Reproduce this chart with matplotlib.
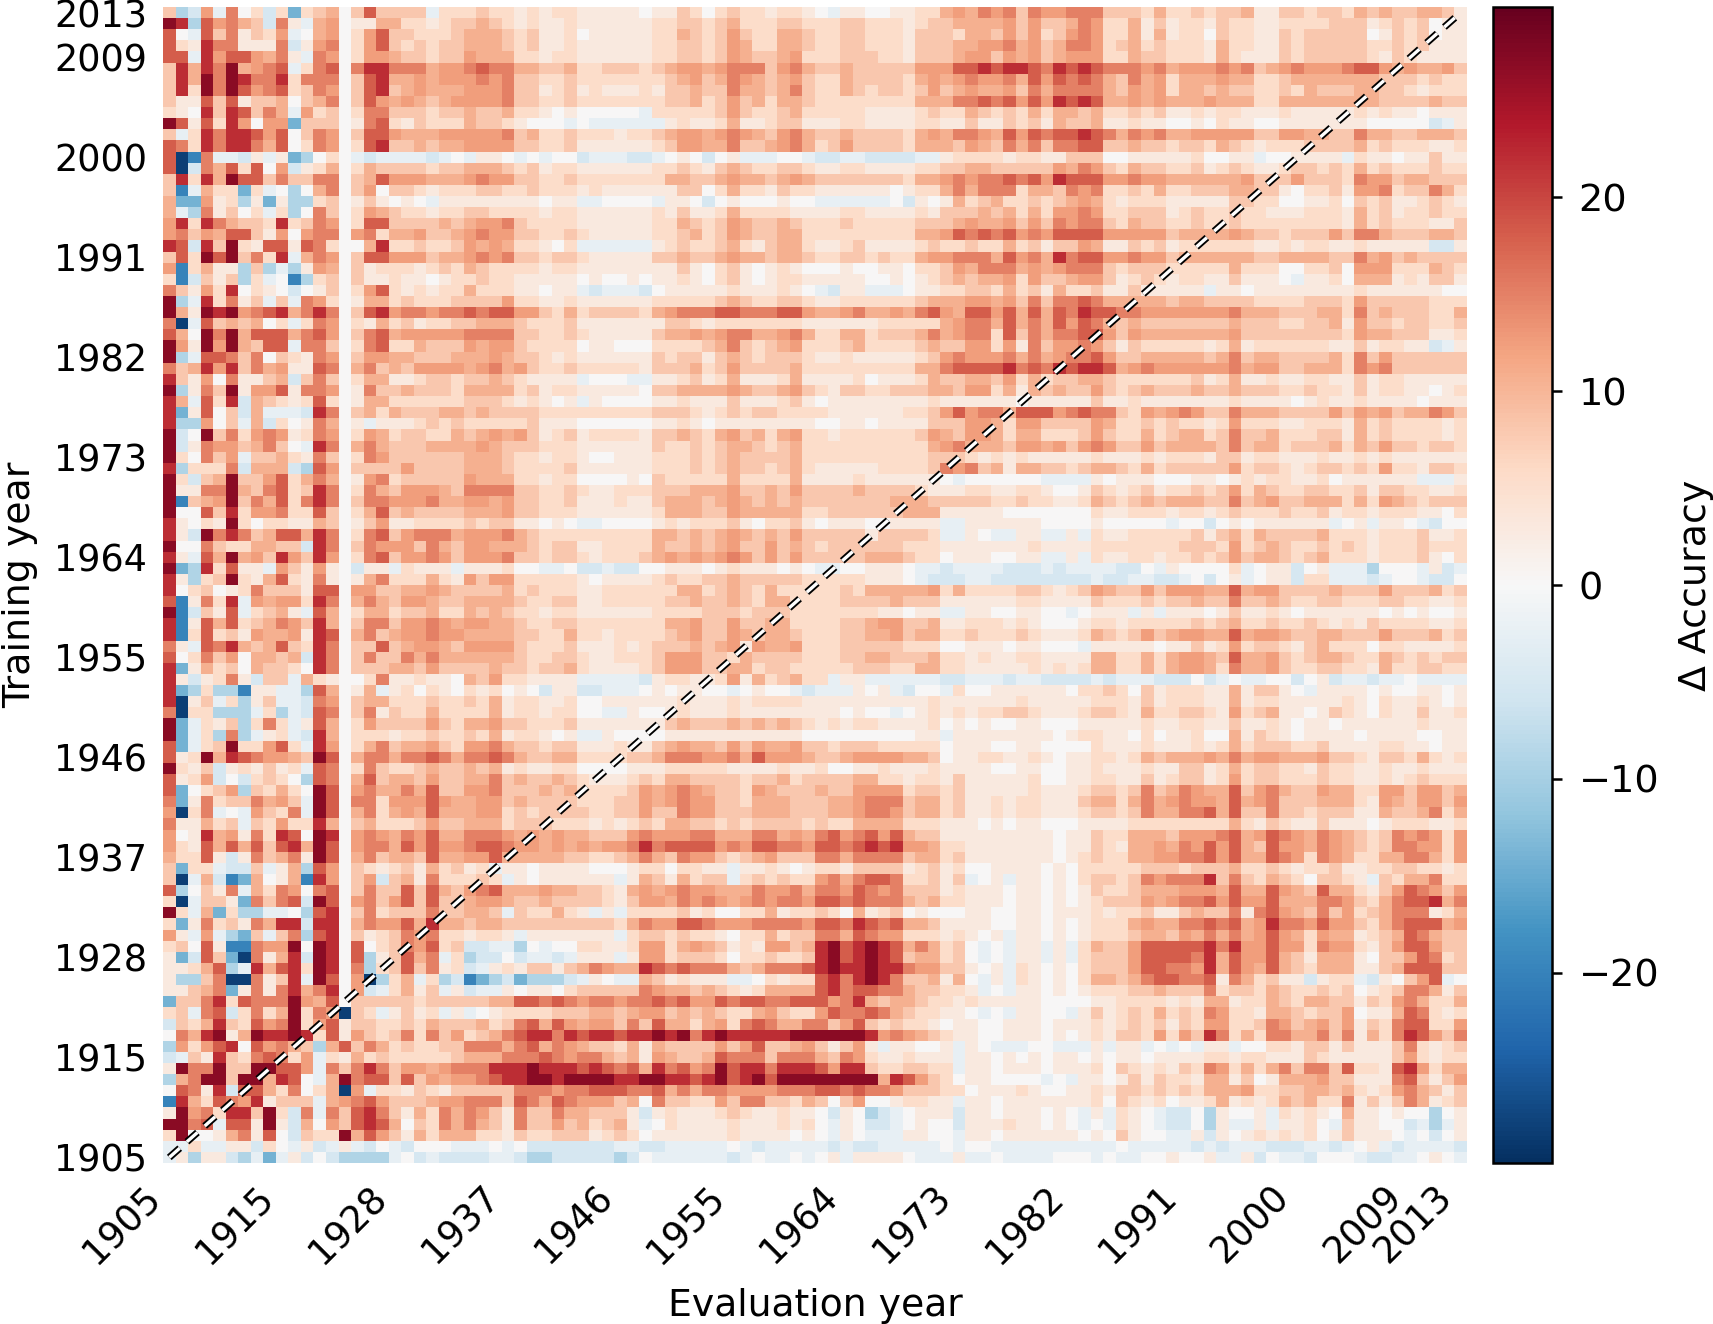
import numpy as np
import matplotlib
matplotlib.use('Agg')
import matplotlib.pyplot as plt
import matplotlib.patheffects as pe
from matplotlib.transforms import ScaledTranslation

# gain per training year (rows, 2013 at the top) and evaluation year (columns)
# each character is one cell, see LEVELS. Columns are split in three blocks.
LEVELS = {'0': 0, '1': 3, '2': 5.5, '3': 8, '4': 10.5, '5': 12.5, '6': 15, '7': 18, '8': 22, '9': 27,
          'a': -2.5, 'b': -5, 'c': -9, 'd': -14, 'e': -20, 'f': -28}

left_cols = [
"3cb5a602b2 d234037333 3a22232212 1221",
"98c75643b6 1a45011442 2123343212 1121",
"70a7361325 a045025733 2223444323 1120",
"7218661116 b156025732 3233444323 1121",
"77a8577546 1a65025543 3233544422 1221",
"3848694567 a267068866 6455676644 3342",
"3849698668 2666037844 5455565633 2232",
"3829697567 2365037834 5444555633 1231",
"3117371334 0346037545 4345555633 2232",
"2108387364 a523026633 3233433422 1010",
"9717285055 d333016721 3222433210 00a0",
"3a28688757 0365037754 4455555634 2232",
"7628688647 0265027833 4344555533 2231",
"7fe6aab1a1 dc020abaaa aba0a110a0 a00b",
"7fb6472705 b124024333 3233444323 1221",
"3828497736 3366034755 5444565533 2232",
"3ea422d2a0 c046035033 2122233223 2221",
"4dd512c1d1 cc23013101 0a11111111 011a",
"4ac61302a2 c063025432 2122332222 1221",
"5828643328 2365027733 3343455632 2221",
"5635477315 0566056244 5334565533 2232",
"87b8392177 1762004822 3223545422 102a",
"3729793628 a465037755 5344565633 2332",
"5e2411c3ca c154031222 1232432222 1221",
"2eb313c2a0 ec23031121 1012232211 1110",
"6315280210 b013025721 2122422211 011a",
"9ca82613a3 a652014423 2223333522 1121",
"9419895678 4686037856 6566767755 3242",
"6fa7343402 a265021423 1223344432 2231",
"7409694777 4675036745 5555666633 2232",
"9519594377 a663026722 4333545532 2220",
"9ca7763603 2165035544 3334445433 2121",
"6348583645 1176046343 5555456453 2232",
"8315061134 b363024411 2332334321 111a",
"9c16391557 1665016334 3332444423 1221",
"84a728b432 1272014422 2222333212 101a",
"8d1703b4aa ab86034243 3344343333 2222",
"8cc503a4b2 016401a111 2323222223 1110",
"9b09362565 1265025423 3224345453 1231",
"9b16553463 0a86046433 3444454333 2221",
"920635a334 2163026533 3333444322 1221",
"8c2226b444 bc75033335 3333444322 2231",
"92b3493357 2464015623 3333544422 1220",
"9116694367 2386026435 5543666633 2232",
"9e34593647 2686036655 5644554533 2231",
"9007382556 2273024734 3333444533 2221",
"8102192022 1143013511 2222323311 010a",
"81b9686347 7486026735 6664555643 2222",
"9006322443 3b86036555 3643554443 2331",
"81a7494538 5385026735 5653555633 2332",
"9dc82711a5 31510b11a2 111a111200 aa0b",
"81c2392147 2161014622 2421535522 2221",
"8023012633 3177055334 4543333423 2221",
"7e1628a545 5286046435 5433444432 2331",
"9eb317a234 1a74024423 3422434322 1221",
"8e17472346 5384036635 5654554432 2332",
"8e27231544 5187046345 5655444433 2242",
"61a7684347 3286033734 5543555532 2231",
"7026350443 4b86036336 4644444432 2332",
"8d14230433 2086033344 3533334332 3342",
"81b1261b33 a421002611 2110435221 111a",
"8dc2cce11a ac74014a12 0210212010 b11b",
"8f13a2c13a ab65034422 2322324122 1120",
"6f22ccca2c ab76036132 2422224122 1220",
"9da213c262 a174025333 3532445332 2231",
"9da2c6ca12 ab84022212 2322324122 101a",
"7da2392257 2a85024634 4532556433 2331",
"7129487655 4397046646 6764667643 3442",
"9213b12131 2a76026322 3433434121 1220",
"7125b0b232 0c76047344 3533446343 3432",
"7d0235c324 2097056446 4733556333 4342",
"6d16233645 3a97066255 5754455343 3332",
"5f26a0a532 6a97046245 4744455232 3333",
"611423a325 2284034222 3533444233 3222",
"5018451628 7098056546 5744666545 4544",
"5217474737 8497056647 5755677655 4545",
"42271b1634 6197046344 3744557444 4433",
"3d22abb3a1 4c75032123 142312a110 1111",
"3fa4bed401 4e85035b34 1622232a10 1111",
"7c0316a426 5067036337 3743567444 5443",
"2fa331d636 7b97056357 3733455433 4333",
"92a4d2ccaa 0c78036233 3633443a32 2421",
"2d16231648 8b88046557 4844344333 3333",
"51a5acd3a3 6c78031236 56221221a1 1111",
"23071ee655 9098070236 5723bbaac0 a002",
"1db73df614 8b9807c137 46a2cbb0ba aba1",
"11247ca847 829806c237 3612ba1213 3134",
"1cc36ff613 8a9705fc24 a2cbedcbdc ccba",
"11346d1616 846805ba24 13a1baa101 1023",
"d336827666 9547033333 2333334477 6765",
"23a67b2624 9265f32a13 12a1a01222 2333",
"b324832756 9257133223 2433342367 4754",
"0648914988 9827153236 2635234678 8687",
"c525780756 43c4736423 2233666467 4654",
"ba31832676 25a2142322 2223444666 7656",
"1966933997 75a6368635 5456668889 8887",
"c469939948 70a4967737 3545567889 9899",
"07618b7742 6024f5a221 3213333366 6566",
"e842765813 33a4567533 3455666376 4765",
"1956288392 b6a6378631 4264653163 3644",
"9967a77191 b405378740 3264643163 3534",
"2900146170 b322947531 4244422132 2333",
"aa2aa11b20 a1ba1ab0ab 000aaa0a0b bbbb",
"a1c11bcada 1b0bcccca0 babbbbaabc cbbb",
]

mid_cols = [
"1111011320 232212210a 1100112245 46563",
"1111122332 3422233222 3322212334 44453",
"1111122432 3532244322 3322213332 44353",
"1111122332 3542244322 3322213334 45564",
"1111122332 3543345222 3332213334 55354",
"2333234554 5666356433 4333335557 78788",
"2222223453 4654345322 4333324545 65564",
"2111213343 3644346322 4323323534 54453",
"2222223342 3534244322 2222224446 67675",
"0000a22222 3532234222 2211112322 43232",
"aaaaaa1211 2411233111 2211112211 31132",
"2212234554 5654356433 4333324546 65475",
"1111123554 4633456423 5333324443 54364",
"aaabba010b 01aaa00abb aabbbbaa12 22212",
"1111122321 3432233211 2211112233 44333",
"2222224433 4544345433 3333324456 56676",
"2111111330 2422132211 1111012246 46662",
"a0000a110b 01000100aa aaaa0b1014 23422",
"1111121311 2422221111 2211112133 34342",
"1111122432 3543343222 3222223334 54453",
"1111122342 3543344222 2222224457 67675",
"aaaaa12322 3421344211 2311112322 32242",
"1111133433 4544344322 3323224556 66475",
"1111111310 2310121000 1001102235 46664",
"1001011210 2310122111 1100101234 34452",
"baaab01111 12111210ab 11aaa01122 33242",
"1111122222 3432233211 2222223444 55453",
"3333245666 7766677544 5644546754 77574",
"1111113321 2222222111 1112222245 66474",
"1111134454 5664456422 4423334645 66273",
"1100022223 4632345222 3422223433 55251",
"1111132331 3432333211 2111112356 55564",
"2222133342 3533334222 2222224467 77786",
"000aa11231 2411124111 1201112433 44352",
"1111033444 4543345321 3322333443 55241",
"1000011211 1311123101 1111111211 11110",
"2222233321 2323322221 1111122357 56647",
"0000011210 1111111100 1101111333 55425",
"2222133432 4534245221 2222223543 55424",
"1111132232 3443234222 2222222456 44435",
"0011122232 3433334222 2222222333 21212",
"1111122232 3433234211 1112222365 63414",
"0001032222 2422224111 121111110a 00000",
"1122233344 4533435333 3433332111 22112",
"1121134443 4543434333 3333444333 33223",
"1111124443 3544444223 3333344411 11100",
"a000012122 2310223101 11001111aa 11111",
"2222244343 4543435333 33133332aa 10aa1",
"1222243343 4533534323 3333322211 11111",
"1222345454 5653535333 3344432201 11001",
"babb001110 12111010aa 001110aaba aaabb",
"0111123223 3433333222 221110abbb aabbb",
"1222222442 3432422222 3244444524 22223",
"1222223343 3432442222 3333433311 11112",
"1111122223 3323332222 22211011aa 11001",
"2222224453 3533442222 3345533411 22212",
"2122223453 3543443222 3344534422 32223",
"1121233343 4515445222 3333322200 11101",
"1122235553 3243333222 3344333422 12112",
"1111235553 3442332222 2333224422 11111",
"aaaab12211 251423422a 11aaaaaabb aaaba",
"baaa010110 0a0100abaa a101ab00a2 00111",
"0111111211 1212222111 1111111211 11112",
"0aa1001211 1211111111 0100a01212 12233",
"1111113433 3434343212 1221111201 01001",
"a100001111 1111111000 00000011a1 11111",
"1121134544 3535445332 3332222201 11001",
"2223346665 5647555433 4555544301 12211",
"0001112222 2111121120 0112111211 11001",
"1112324433 3323342333 3442212213 11111",
"2223545654 3325433343 3555523323 11111",
"2233545655 3324443334 4566634423 11212",
"2233533655 3334443334 4566534423 11212",
"1212324433 2323333232 2444422211 10101",
"3335655566 4446645467 5675743311 11111",
"4556867777 5657766577 6787855422 11111",
"2234643655 3234533366 4666634423 11111",
"0001220221 1a11210122 1333312312 00111",
"11a1431423 3a23232256 4677622313 a01a1",
"3214545655 4446556466 5765633312 11101",
"3213554656 5456566577 6766643422 11101",
"a1a2222312 0022412232 0412301000 11001",
"3324655776 5556666577 6876744311 11001",
"11a2332322 1022423366 4765522212 101a1",
"2112552454 3121553489 7898746423 0a0a1",
"11a1552333 2022322389 7898734423 0a0a1",
"6544876766 6434666789 8898865533 101a2",
"10aa431211 1aa0212278 6898633414 0a1a2",
"3333654434 3212444478 6776643322 1a0a1",
"6656676755 7677667775 6843443221 21111",
"4434553434 3224532257 6676432211 0a0a1",
"5536374424 5267644663 5732322101 10011",
"8878898968 9888889999 9985654321 10011",
"3324143333 5357334531 351a11001a 10aaa",
"6434154334 7666366643 652112111a 11010",
"8767486756 9788688875 883223322a 11011",
"9988998878 9789799999 9994875320 11000",
"7776674646 6555566677 6766533322 01112",
"5534063322 5366332430 350012211a 11011",
"3331b12111 232112110b 10cba0111b 11011",
"2341a02111 121112120a 10bba0100b 11121",
"1232011111 121111010a 10aaa1100a 11011",
"bbaabbaaaa a0abaaaaab abbaaaaa0a 00aaa",
"bbcb0aaaaa aba0aa0a01 a11110aaa1 aa0aa",
]

right_cols = [
"6556663332 4223233411 3323324343 34431",
"5334652241 3122132211 2222333123 23011",
"5235652241 4122032211 3233333013 23011",
"5346652342 3222142211 3233333223 23111",
"5345552243 3222142111 3233333213 21111",
"7687876665 6455565634 5655567754 54453",
"7576764364 5244454422 3444444433 32322",
"6466664354 5244343322 3243334433 21222",
"7587874454 5444544422 4444444433 33433",
"4244342232 3112122111 2111112121 10111",
"3143341121 1001021100 1111111000 00ba1",
"7677876465 6445555533 5544336443 34443",
"6366773343 3233243212 2233334232 22112",
"2113330011 11120011a0 01111a2110 11311",
"3354653243 3223123211 2332324232 22322",
"7587775565 5444444533 3533326553 44333",
"4436562232 4223334433 1022315562 33642",
"3234542122 2111113322 0011203231 12321",
"4255652233 3123223221 1122214231 22322",
"5365663243 3223223222 2222214232 22113",
"6577775555 5344445433 2333536643 33443",
"3133541132 3122222211 2122112111 11bb1",
"6486775565 5344444433 4444336453 43333",
"5456663233 3222224222 0022305552 22432",
"5334553123 2122113111 0a11204441 21331",
"3142231131 1111a11011 1111112111 11100",
"6366764444 4344333322 2233325333 33222",
"7476877665 5555556444 3334426343 33224",
"6475764343 3333334333 2233415332 33223",
"6466775354 4444445333 3333325443 33112",
"6355653132 2222124122 2222113122 11ba1",
"6456675334 4444346344 3333426353 33333",
"7687887456 5555556455 3344426563 33333",
"4233443222 2223124112 1122113122 11111",
"4343353234 3334334333 2232213122 11012",
"1111131121 1111112111 1012112111 10111",
"7756766325 4565336444 3333535453 44653",
"5333354223 2322125222 1122214232 22212",
"4222353224 2344236334 2223314232 22212",
"5453565335 3444436344 2333424353 32332",
"1111121112 1222133122 1112112121 11111",
"4332344324 2333335233 2123323252 21332",
"0aaaa10111 0001101212 2112011111 1aaa1",
"2100132123 1223235243 2233223133 22112",
"2211243234 3444336345 3344424254 32333",
"0000021122 2122123222 3223122122 21102",
"1000010000 0a00b01011 1111a01a11 0ab00",
"1aa1a21122 2223134243 3334222122 23112",
"2111122222 2233325234 3223232122 23222",
"1aa1a21122 1223235344 3234222122 23102",
"babaaaabb0 a100002a01 1b01aaac00 0a1ba",
"bbbbbabbaa bba0b01a01 1b22aaaba0 0abb0",
"3212354335 3555447455 3333433353 33423",
"2111132223 2334336334 3223322233 22112",
"100a0111a1 a111013112 1011111101 01001",
"1000122122 2223234223 2232121322 22112",
"2111243235 3455447455 4334433353 33423",
"1000a11111 0113125233 2134222022 11112",
"2111144224 2455437445 3234432243 23233",
"2121244224 2455426445 3223322142 23322",
"abbbbabaaa bbb0ba0aa0 0b01baabaa 0aaaa",
"1110223203 1222114133 10a1111010 01101",
"1111122213 1222114122 1111121021 12101",
"2111233214 2233215234 1101321021 13112",
"1000111112 1122113112 1011011111 12111",
"1101221102 0112004132 1011110111 10011",
"1000021112 1112124233 3223111122 11011",
"2101122124 3444546455 4445332133 24212",
"1001121112 1133124233 2213221121 12111",
"2001122113 1233125233 2223221121 23222",
"2111233236 3465447356 4335442255 35534",
"2111344246 4565547456 3334442154 35535",
"2111233236 4466747336 3323331143 34624",
"1000111122 2222224213 2113111012 22112",
"1101132244 4355567457 6546543236 56525",
"1101132144 5465757437 5546543236 65525",
"1101232244 5566757447 6526542244 66425",
"1010222223 3323334223 2122311223 32212",
"1010233236 5666836324 3203321a32 44622",
"1010132234 4455547447 5437442135 76535",
"1010123335 4566757557 4446653246 77846",
"1011121223 1134336167 5436352346 66124",
"1010122245 4466767458 6657553246 77745",
"1010122234 4354646457 5425441234 76433",
"1a1a243357 7777868557 5526552135 77533",
"1a1a233357 7776847557 4314441033 57623",
"1010233357 7665847547 4324441134 77733",
"1010244346 7766716423 11b122ab10 357a0",
"1010122233 4333623324 3223230123 66413",
"1000011222 2121441224 3244331325 64224",
"100a131232 4232652214 4323350114 76212",
"1011121232 3132552236 5345351326 77225",
"1010121332 5253862426 6446361426 87536",
"00aaa1a11a 0a0a11a002 2133131113 62123",
"1011010110 1111221221 1132111113 52122",
"1011120321 2132652424 6366372217 85244",
"0a0a110131 3221441301 4445331116 73135",
"1001121332 3232444522 3344342125 64313",
"1111120321 2011241212 4342261313 64123",
"1010a1a210 abb0c1001a 2121041101 00c01",
"1010a0a210 abb0c1aa1a 1120a31100 baca1",
"1111010310 0aa1b10121 2120131110 a0b01",
"aaaaaaa0aa aaababaaab bbaaba01ab aaaab",
"aa000a0aa0 01001aa1b0 aab000abba a010a",
]

year_labels = [1905, 1915, 1928, 1937, 1946, 1955, 1964, 1973, 1982, 1991, 2000, 2009, 2013]
year_index = [0, 9, 18, 27, 36, 45, 54, 63, 72, 81, 90, 99, 103]

rows = []
for a, b, c in zip(left_cols, mid_cols, right_cols):
    row = (a + b + c).replace(' ', '')
    assert len(row) == 104, (a, b, c, len(row))
    rows.append([LEVELS[ch] for ch in row])
# rows are listed from the top, the y axis starts at 1905
delta = np.array(rows)[::-1]
vmax = 29.8

plt.rcParams['font.family'] = 'DejaVu Sans'

W, H = 1713, 1324
fig = plt.figure(figsize=(W / 300, H / 300), dpi=300)
ax = fig.add_axes([163 / W, 1 - 1163 / H, 1304 / W, 1156 / H])
im = ax.imshow(delta, origin='lower', aspect='auto', cmap='RdBu_r', vmin=-vmax, vmax=vmax,
               interpolation='nearest')

# diagonal: white dashes with a thin black edge
diag = [0, delta.shape[0] - 1]
ax.plot(diag, diag, color='white', lw=0.8, dashes=(4.2, 2.9), dash_capstyle='butt', scalex=False, scaley=False,
        path_effects=[pe.withStroke(linewidth=1.7, foreground='black')])

for s in ax.spines.values():
    s.set_visible(False)
ax.set_xticks(year_index)
ax.set_yticks(year_index)
ax.set_xticklabels(year_labels, rotation=45, ha='right', rotation_mode='anchor', fontsize=8.8)
ax.set_yticklabels(year_labels, fontsize=8.8)
ax.tick_params(axis='both', length=0, pad=3.8)

# rotated year labels sit a little left of their cells
shift = ScaledTranslation(-6.5 / 72, 0, fig.dpi_scale_trans)
for lab in ax.get_xticklabels():
    lab.set_transform(lab.get_transform() + shift)

ax.set_xlabel('Evaluation year', fontsize=9.05, labelpad=4)
ax.set_ylabel('Training year', fontsize=9.1, labelpad=3.8)

cax = fig.add_axes([1493 / W, 1 - 1163 / H, 59 / W, 1156 / H])
cb = fig.colorbar(im, cax=cax)
cb.set_ticks([-20, -10, 0, 10, 20])
cb.ax.tick_params(labelsize=9.2, length=2.4, width=0.6, pad=4)
cb.outline.set_linewidth(0.6)
cb.set_label('Δ Accuracy', fontsize=9.1, labelpad=4.6)

fig.savefig('out.png', dpi=300)
